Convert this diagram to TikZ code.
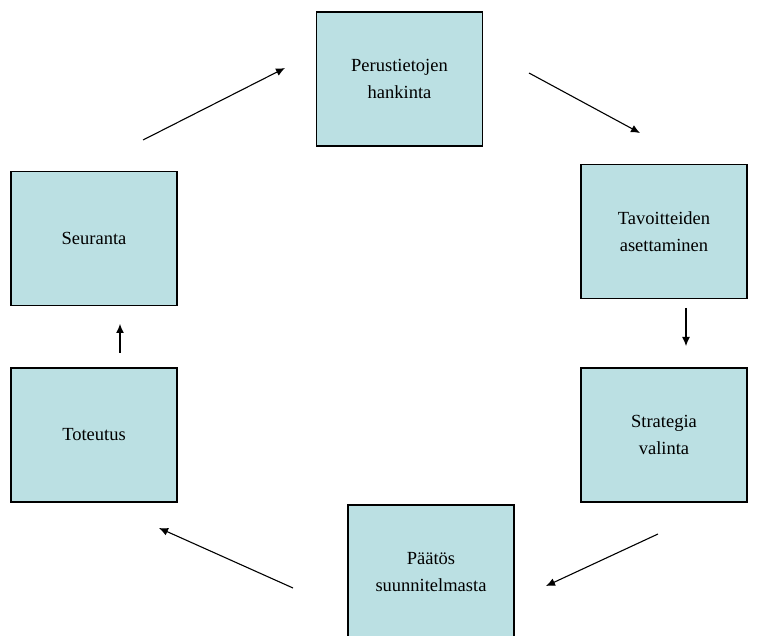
\documentclass[tikz,border=0pt]{standalone}
\usepackage{fontspec}
\setmainfont{Liberation Serif}
\usetikzlibrary{arrows.meta}
\definecolor{boxfill}{RGB}{187,224,227}
\tikzset{
  stage/.style={draw=black, line width=1.3pt, fill=boxfill, align=center,
    font=\fontsize{18.5}{27}\selectfont, inner sep=0pt,
    minimum width=166pt, minimum height=134pt},
  flow/.style={draw=black, line width=1.1pt, -{Latex[length=9pt,width=8pt]}}
}
\begin{document}
\begin{tikzpicture}[x=1pt,y=-1pt]
  \useasboundingbox (0,0) rectangle (761,636);
  \clip (0,0) rectangle (761,636);
  % stages of the cycle
  \node[stage] (perus) at (399.5,79) {Perustietojen\\hankinta};
  \node[stage] (tav) at (664,231.5) {Tavoitteiden\\asettaminen};
  \node[stage] (strat) at (664,435) {Strategia\\valinta};
  \node[stage] (paat) at (431,572) {Päätös\\suunnitelmasta};
  \node[stage] (tot) at (94,435) {Toteutus};
  \node[stage] (seur) at (94,238.5) {Seuranta};
  % free arrow ends
  \coordinate (a1s) at (143,140);  \coordinate (a1e) at (285,68);
  \coordinate (a2s) at (529,73);   \coordinate (a2e) at (640,133);
  \coordinate (a3s) at (686,308);  \coordinate (a3e) at (686,346);
  \coordinate (a4s) at (658,534);  \coordinate (a4e) at (546,586);
  \coordinate (a5s) at (293,588);  \coordinate (a5e) at (159,528);
  \coordinate (a6s) at (120,353);  \coordinate (a6e) at (120,324);
  % connectors
  \draw[flow] (a1s) -- (a1e);
  \draw[flow] (a2s) -- (a2e);
  \draw[flow] (a3s) -- (a3e);
  \draw[flow] (a4s) -- (a4e);
  \draw[flow] (a5s) -- (a5e);
  \draw[flow] (a6s) -- (a6e);
\end{tikzpicture}
\end{document}
